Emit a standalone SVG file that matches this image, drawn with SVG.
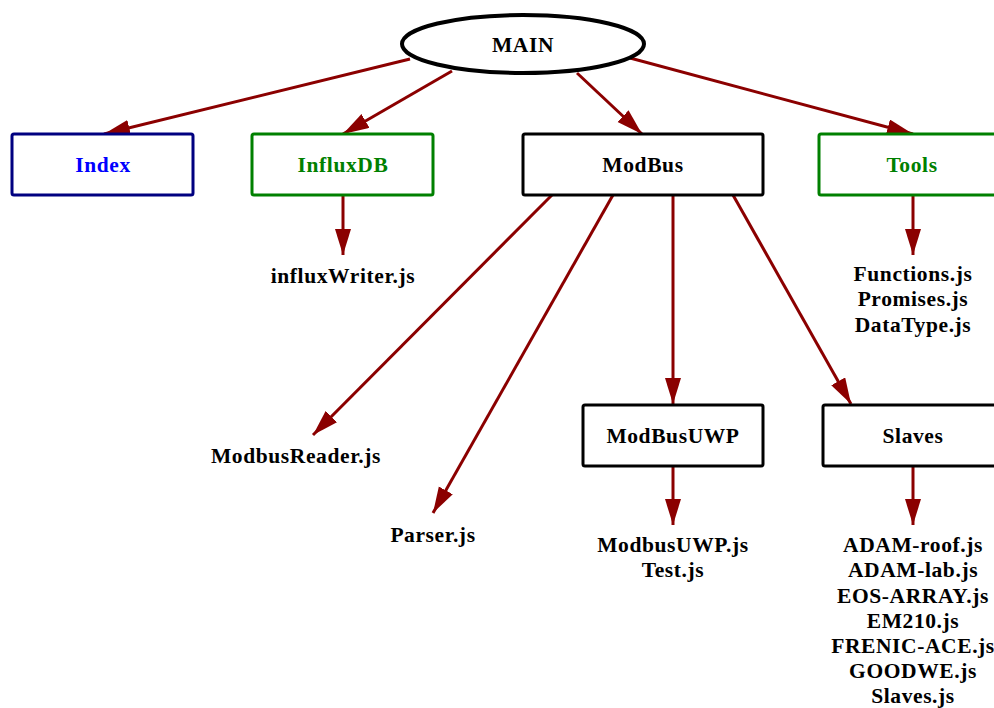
<svg xmlns="http://www.w3.org/2000/svg" width="994" height="708" viewBox="0 0 994 708">
  <style>
    text { font-family: "Liberation Serif", "Times New Roman", serif; font-weight: bold; font-size: 21.5px; letter-spacing: 0.6px; text-anchor: middle; fill: #000; }
    .box { fill: #fff; stroke: #000; stroke-width: 3; }
    .blue { stroke: #000080; }
    .green { stroke: #008000; }
    .tblue { fill: #0000ff; }
    .tgreen { fill: #008000; }
    .edge { fill: none; stroke: #8b0000; stroke-width: 3; marker-end: url(#arrow); }
  </style>
  <defs>
    <marker id="arrow" markerUnits="userSpaceOnUse" markerWidth="27" markerHeight="17" refX="26" refY="8" orient="auto" viewBox="0 0 27 17">
      <path d="M0,0 L26,8 L0,16 z" fill="#8b0000"/>
    </marker>
  </defs>

  <rect width="994" height="708" fill="#fff"/>

  <!-- connectors -->
  <g id="edges">
    <line class="edge" x1="410" y1="59" x2="104" y2="134"/>
    <line class="edge" x1="452" y1="71" x2="343" y2="134"/>
    <line class="edge" x1="577" y1="73" x2="642" y2="134"/>
    <line class="edge" x1="630" y1="58" x2="913" y2="134"/>
    <line class="edge" x1="343" y1="195" x2="343" y2="255"/>
    <line class="edge" x1="913" y1="195" x2="913" y2="255"/>
    <line class="edge" x1="552" y1="195" x2="313" y2="435"/>
    <line class="edge" x1="613" y1="195" x2="433" y2="513"/>
    <line class="edge" x1="673" y1="195" x2="673" y2="404"/>
    <line class="edge" x1="733" y1="195" x2="851" y2="404"/>
    <line class="edge" x1="673" y1="466" x2="673" y2="525"/>
    <line class="edge" x1="913" y1="466" x2="913" y2="525"/>
  </g>

  <g id="main">
    <ellipse cx="523" cy="44" rx="121" ry="29" fill="#fff" stroke="#000" stroke-width="4"/>
    <text x="523" y="52">MAIN</text>
  </g>

  <g id="index">
    <rect class="box blue" x="12" y="134" width="181" height="61" rx="2"/>
    <text class="tblue" x="103" y="172">Index</text>
  </g>

  <g id="influxdb">
    <rect class="box green" x="252" y="134" width="181" height="61" rx="2"/>
    <text class="tgreen" x="343" y="172">InfluxDB</text>
  </g>

  <g id="modbus">
    <rect class="box" x="523" y="134" width="240" height="61" rx="2"/>
    <text x="643" y="172">ModBus</text>
  </g>

  <g id="tools">
    <rect class="box green" x="819" y="134" width="186" height="61" rx="2"/>
    <text class="tgreen" x="912" y="172">Tools</text>
  </g>

  <g id="influxwriter">
    <text x="343" y="283">influxWriter.js</text>
  </g>

  <g id="tools-files">
    <text x="913" y="281">Functions.js</text>
    <text x="913" y="306">Promises.js</text>
    <text x="913" y="332">DataType.js</text>
  </g>

  <g id="modbusreader">
    <text x="296" y="463">ModbusReader.js</text>
  </g>

  <g id="parser">
    <text x="433" y="542">Parser.js</text>
  </g>

  <g id="modbusuwp">
    <rect class="box" x="583" y="405" width="180" height="61" rx="2"/>
    <text x="673" y="443">ModBusUWP</text>
  </g>

  <g id="modbusuwp-files">
    <text x="673" y="552">ModbusUWP.js</text>
    <text x="673" y="577">Test.js</text>
  </g>

  <g id="slaves">
    <rect class="box" x="823" y="405" width="181" height="61" rx="2"/>
    <text x="913" y="443">Slaves</text>
  </g>

  <g id="slaves-files">
    <text x="913" y="552">ADAM-roof.js</text>
    <text x="913" y="577">ADAM-lab.js</text>
    <text x="913" y="603">EOS-ARRAY.js</text>
    <text x="913" y="628">EM210.js</text>
    <text x="913" y="653">FRENIC-ACE.js</text>
    <text x="913" y="678">GOODWE.js</text>
    <text x="913" y="703">Slaves.js</text>
  </g>
</svg>
